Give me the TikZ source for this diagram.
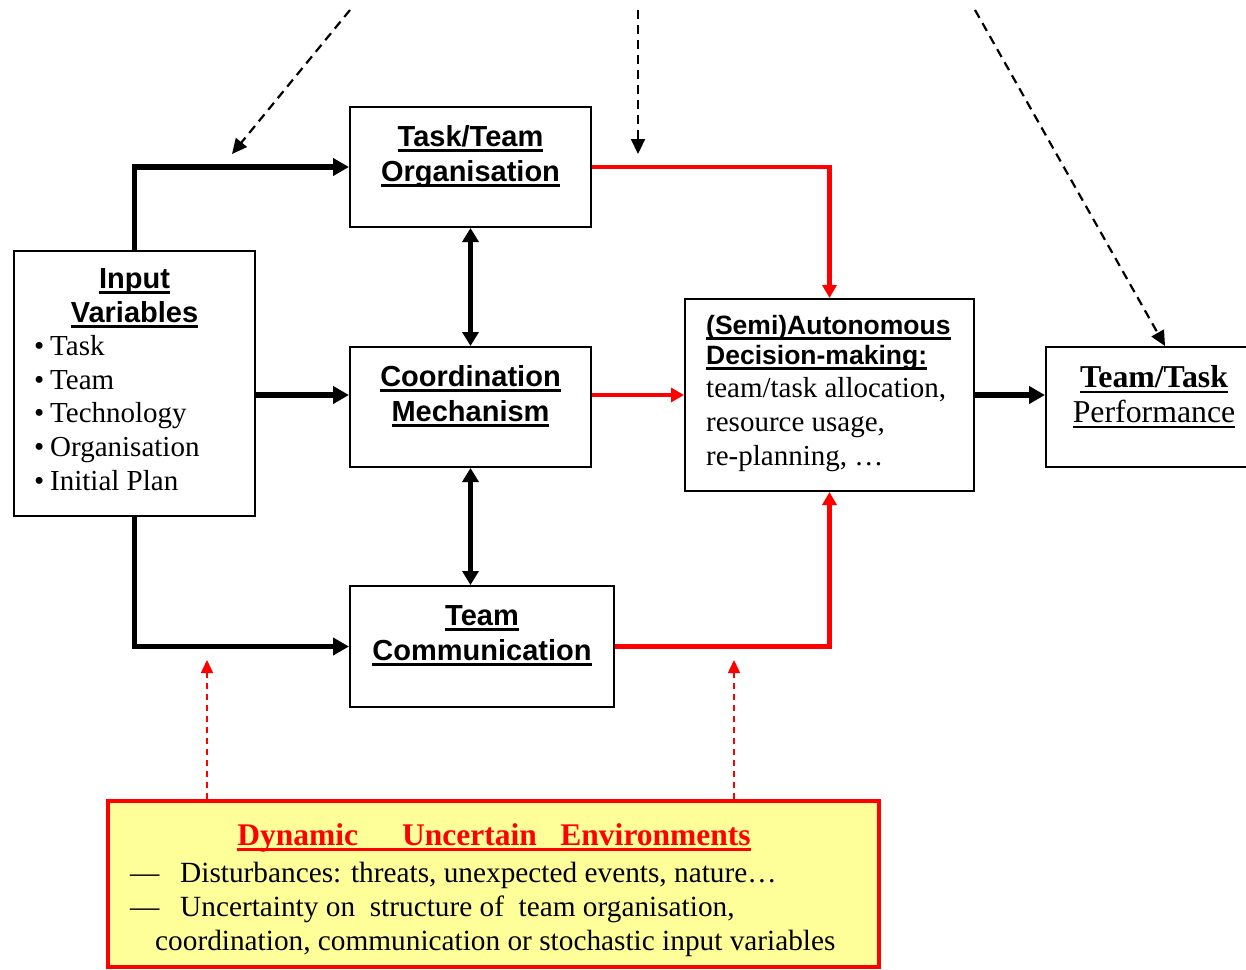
\documentclass[tikz,border=0pt]{standalone}
\usepackage{fontspec}
\setmainfont{Liberation Serif}
\setsansfont{Liberation Sans}
\usetikzlibrary{arrows.meta}
\definecolor{envfill}{HTML}{FFFF99}
\newcommand{\ulx}[1]{\setbox0=\hbox{#1}\rlap{\copy0}\raisebox{-6pt}{\rule{\wd0}{3pt}}}
\newcommand{\ulthin}[1]{\setbox0=\hbox{#1}\rlap{\copy0}\raisebox{-5.5pt}{\rule{\wd0}{2pt}}}
\newcommand{\hdfont}{\sffamily\bfseries\fontsize{29}{34}\selectfont}
\newcommand{\decfont}{\sffamily\bfseries\fontsize{26.5}{31}\selectfont}
\newcommand{\bodyfont}{\rmfamily\fontsize{29}{34}\selectfont}
\newcommand{\envfont}{\rmfamily\fontsize{29.3}{34}\selectfont}
\newcommand{\bul}{\makebox[16pt][l]{\textbullet}}
\tikzset{
  box/.style={draw=black, line width=2pt, inner sep=0pt, fill=white},
  txt/.style={inner sep=0pt, anchor=base},
  ltxt/.style={inner sep=0pt, anchor=base west},
  conn/.style={line width=5.5pt, -{Triangle[length=16pt,width=17pt]}},
  dbl/.style={line width=4.5pt, {Triangle[length=14pt,width=16pt]}-{Triangle[length=14pt,width=16pt]}},
  redconn/.style={line width=4.5pt, red, -{Triangle[length=13pt,width=14pt]}},
  dasharrow/.style={line width=2.2pt, dash pattern=on 9pt off 6pt, -{Triangle[length=15pt,width=14pt]}},
  reddash/.style={line width=1.6pt, red, dash pattern=on 6pt off 5pt, -{Triangle[length=13pt,width=12pt]}}
}
\begin{document}
\begin{tikzpicture}[x=1pt,y=-1pt]
\useasboundingbox (0,0) rectangle (1246,969);
% boxes
\node[box, minimum width=241pt, minimum height=265pt] (inp) at (134.5,383.5) {};
\node[box, minimum width=241pt, minimum height=120pt] (tto) at (470.5,167) {};
\node[box, minimum width=241pt, minimum height=120pt] (coo) at (470.5,407) {};
\node[box, minimum width=264pt, minimum height=121pt] (tco) at (482,646.5) {};
\node[box, minimum width=289pt, minimum height=192pt] (dec) at (829.5,395) {};
\node[box, minimum width=238pt, minimum height=120pt] (perf) at (1165,407) {};
\node[draw=red, line width=4pt, fill=envfill, inner sep=0pt, minimum width=771pt, minimum height=166pt] (env) at (493.5,884) {};
% helper coordinates
\coordinate (row) at (0,395);
\coordinate (d1s) at (350,10);
\coordinate (d1e) at (232,154);
\coordinate (d2s) at (638,10);
\coordinate (d2e) at (638,154);
\coordinate (d3s) at (975,10);
\coordinate (e1) at (207,660);
\coordinate (e2) at (734,660);
% texts: input
\node[txt] (inp1) at (134.5,288) {\hdfont\ulx{Input}};
\node[txt] (inp2) at (134.5,322) {\hdfont\ulx{Variables}};
\node[ltxt] (b1) at (34,355) {\bodyfont\bul Task};
\node[ltxt] (b2) at (34,389) {\bodyfont\bul Team};
\node[ltxt] (b3) at (34,422) {\bodyfont\bul Technology};
\node[ltxt] (b4) at (34,456) {\bodyfont\bul Organisation};
\node[ltxt] (b5) at (34,490) {\bodyfont\bul Initial Plan};
% task/team organisation
\node[txt] (tto1) at (470.5,146) {\hdfont\ulx{Task/Team}};
\node[txt] (tto2) at (470.5,181) {\hdfont\ulx{Organisation}};
% coordination
\node[txt] (coo1) at (470.5,386) {\hdfont\ulx{Coordination}};
\node[txt] (coo2) at (470.5,421) {\hdfont\ulx{Mechanism}};
% team communication
\node[txt] (tco1) at (482,625) {\hdfont\ulx{Team}};
\node[txt] (tco2) at (482,660) {\hdfont\ulx{Communication}};
% decision
\node[ltxt] (dec1) at (706,334) {\decfont\ulx{(Semi)Autonomous}};
\node[ltxt] (dec2) at (706,364) {\decfont\ulx{Decision-making:}};
\node[ltxt] (dec3) at (706,397) {\bodyfont team/task allocation,};
\node[ltxt] (dec4) at (706,431) {\bodyfont resource usage,};
\node[ltxt] (dec5) at (706,465) {\bodyfont re-planning, \dots};
% performance
\node[txt] (perf1) at (1154,387) {\rmfamily\bfseries\fontsize{31.8}{36}\selectfont\ulthin{Team/Task}};
\node[txt] (perf2) at (1154,422) {\rmfamily\fontsize{31.8}{36}\selectfont\ulthin{Performance}};
% environment
\node[txt] (env1) at (494,845) {\rmfamily\bfseries\fontsize{31.5}{36}\selectfont\color{red}\ulx{Dynamic\hspace{1.4em}Uncertain\hspace{0.75em}Environments}};
\node[ltxt] (envd1) at (130,882) {\envfont ---};
\node[ltxt] (env2) at (180,882) {\envfont Disturbances: threats, unexpected events, nature\dots};
\node[ltxt] (envd2) at (130,916) {\envfont ---};
\node[ltxt] (env3) at (180,916) {\envfont Uncertainty on\ \ structure of\ \ team organisation,};
\node[ltxt] (env4) at (155,950) {\envfont coordination, communication or stochastic input variables};
% connectors
\draw[conn] (inp.north) |- (tto.west);
\draw[conn] (inp.east |- row) -- (coo.west |- row);
\draw[conn] (inp.south) |- (tco.west);
\draw[dbl] (tto.south) -- (coo.north);
\draw[dbl] (coo.south) -- (coo.south |- tco.north);
\draw[redconn] (tto.east) -| (dec.north);
\draw[redconn] (coo.east |- row) -- (dec.west |- row);
\draw[redconn] (tco.east) -| (dec.south);
\draw[conn] (dec.east |- row) -- (perf.west |- row);
\draw[dasharrow] (d1s) -- (d1e);
\draw[dasharrow] (d2s) -- (d2e);
\draw[dasharrow] (d3s) -- (perf.north);
\draw[reddash] (e1 |- env.north) -- (e1);
\draw[reddash] (e2 |- env.north) -- (e2);
\end{tikzpicture}
\end{document}
